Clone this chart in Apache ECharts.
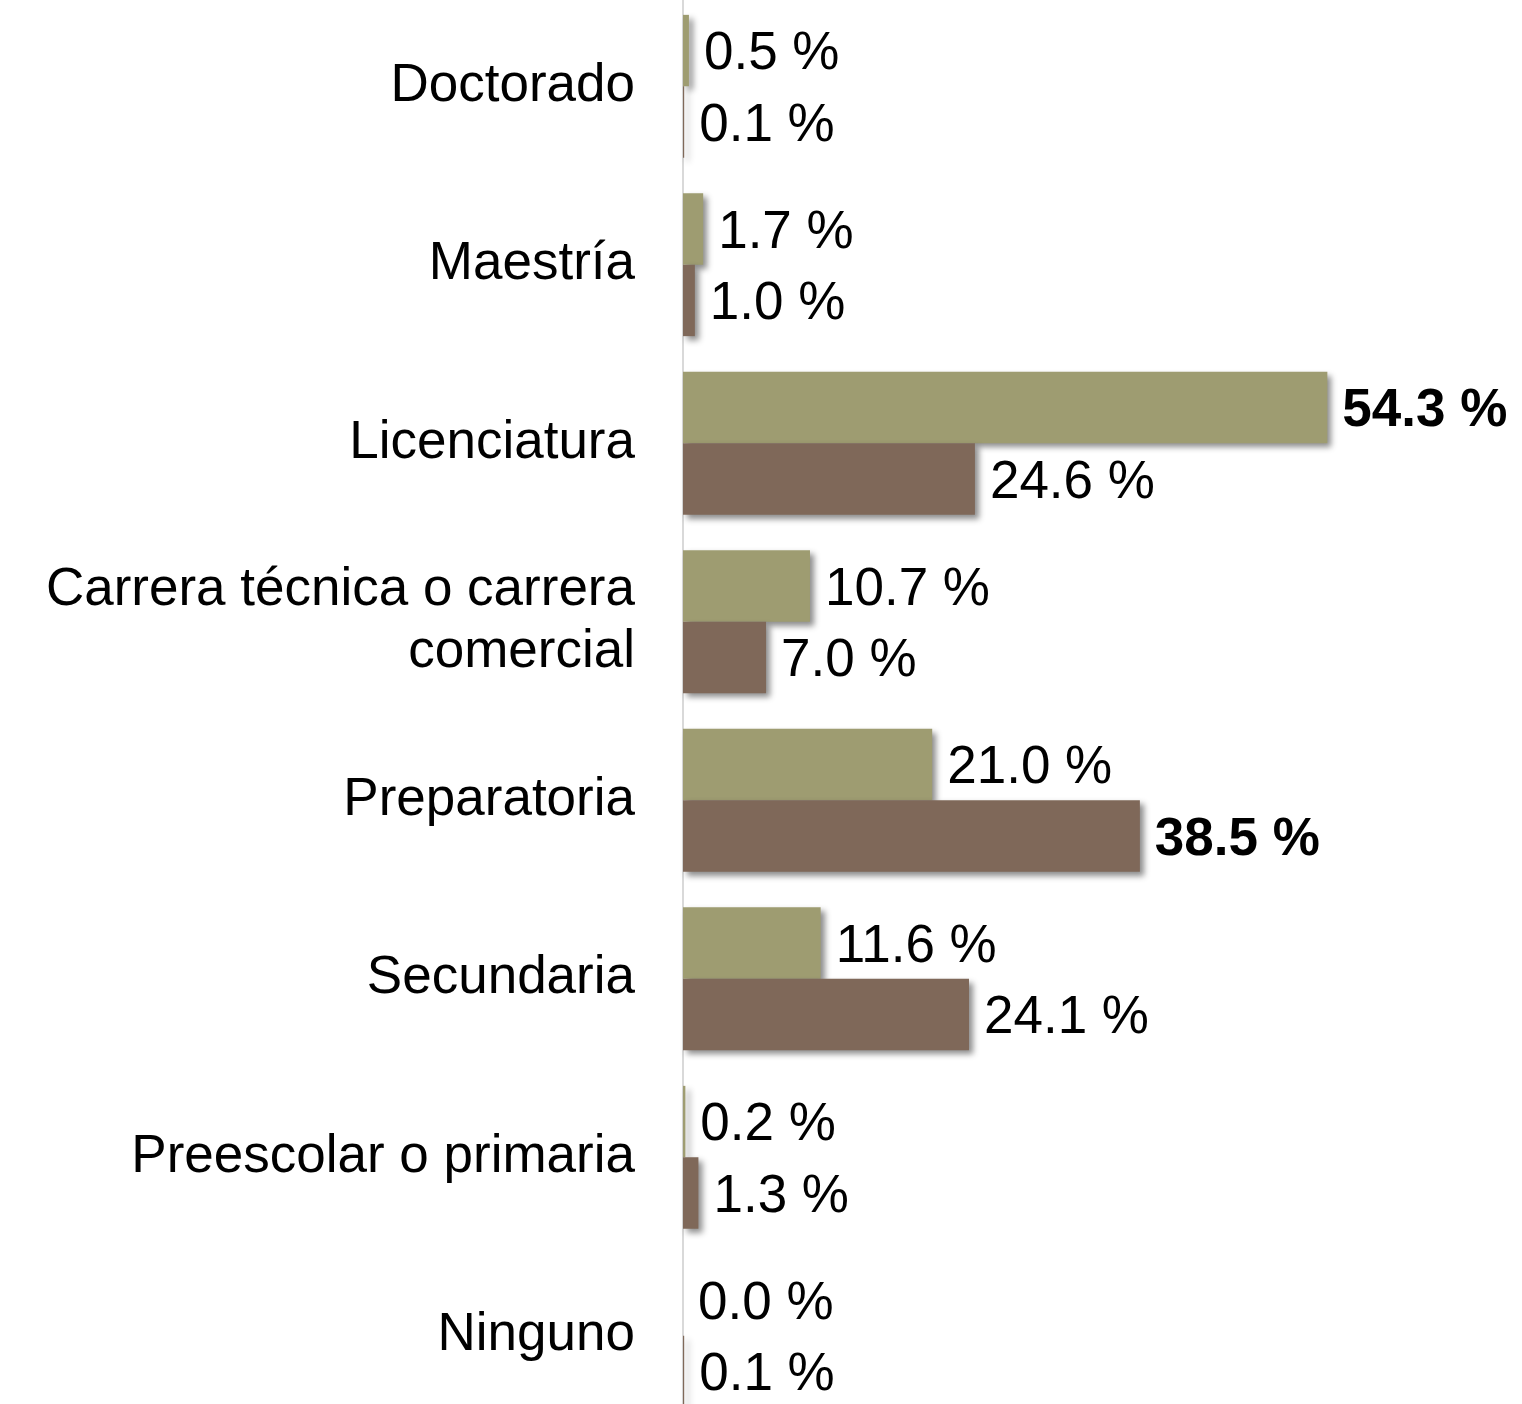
<!DOCTYPE html>
<html>
<head>
<meta charset="utf-8">
<script src="https://cdn.jsdelivr.net/npm/echarts@6/dist/echarts.min.js"></script>
<style>
  html, body { margin: 0; padding: 0; background: #fff; }
  #chart { width: 1522px; height: 1404px; }
</style>
</head>
<body>
<div id="chart"></div>
<script>
  // categorias de arriba hacia abajo
  const categories = ['Doctorado', 'Maestría', 'Licenciatura', 'Carrera técnica o carrera\ncomercial',
    'Preparatoria', 'Secundaria', 'Preescolar o primaria', 'Ninguno'];
  const serieA = [0.5, 1.7, 54.3, 10.7, 21.0, 11.6, 0.2, 0.0];
  const serieB = [0.1, 1.0, 24.6, 7.0, 38.5, 24.1, 1.3, 0.1];

  const colorA = '#9e9c71';
  const colorB = '#7f6859';

  // el valor maximo de cada serie va en negritas
  function toData(values) {
    const max = Math.max(...values);
    return values.map(v => ({
      value: v,
      label: { fontWeight: v === max ? 'bold' : 'normal' }
    }));
  }

  function makeSeries(name, values, color) {
    return {
      name: name,
      type: 'bar',
      data: toData(values),
      barGap: '0%',
      barCategoryGap: '20%',
      itemStyle: {
        color: color,
        shadowBlur: 6,
        shadowOffsetX: 4,
        shadowOffsetY: 4,
        shadowColor: 'rgba(0,0,0,0.45)'
      },
      label: {
        show: true,
        position: 'right',
        distance: 15,
        offset: [0, 4],
        color: '#000',
        fontFamily: 'Liberation Sans, Arial, sans-serif',
        fontSize: 53,
        formatter: p => p.value.toFixed(1) + ' %'
      }
    };
  }

  const chart = echarts.init(document.getElementById('chart'));
  chart.setOption({
    animation: false,
    grid: { left: 683, top: -3, width: 712, height: 1428, outerBoundsMode: 'none', containLabel: false },
    xAxis: {
      type: 'value',
      min: 0,
      max: 60,
      show: false
    },
    yAxis: {
      type: 'category',
      inverse: true,
      data: categories,
      axisLine: { show: true, lineStyle: { color: '#d9d9d9', width: 2 } },
      axisTick: { show: false },
      axisLabel: {
        margin: 48,
        color: '#000',
        fontFamily: 'Liberation Sans, Arial, sans-serif',
        fontSize: 53,
        lineHeight: 62,
        padding: [6, 0, 0, 0],
        align: 'right'
      }
    },
    series: [
      makeSeries('A', serieA, colorA),
      makeSeries('B', serieB, colorB)
    ]
  });
</script>
</body>
</html>
